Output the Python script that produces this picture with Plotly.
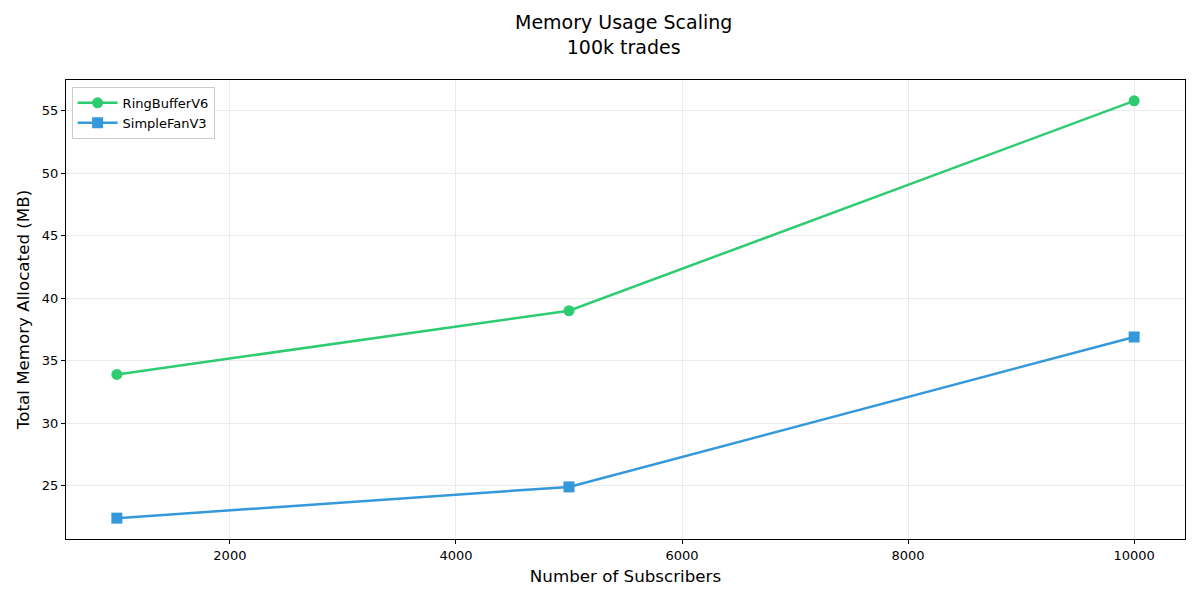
import plotly.graph_objects as go

subscribers = [1000, 5000, 10000]
ring_buffer_v6 = [33.9, 39.0, 55.8]
simple_fan_v3 = [22.4, 24.9, 36.9]
x_ticks = [2000, 4000, 6000, 8000, 10000]
y_ticks = [25, 30, 35, 40, 45, 50, 55]

fig = go.Figure()
fig.add_trace(go.Scatter(
    x=subscribers, y=ring_buffer_v6, mode="lines+markers", name="RingBufferV6",
    line=dict(color="#2ecc71", width=2.5),
    marker=dict(symbol="circle", size=11, color="#2ecc71"),
))
fig.add_trace(go.Scatter(
    x=subscribers, y=simple_fan_v3, mode="lines+markers", name="SimpleFanV3",
    line=dict(color="#3498db", width=2.5),
    marker=dict(symbol="square", size=11, color="#3498db"),
))

axis_common = dict(
    showline=True, linecolor="black", linewidth=1, mirror=True,
    ticks="outside", ticklen=4, tickcolor="black",
    showgrid=True, gridcolor="#ebebeb", gridwidth=1,
    zeroline=False, tickfont=dict(size=13, color="black"),
)

W, H = 1184, 584
fig.update_layout(
    width=W, height=H,
    paper_bgcolor="white", plot_bgcolor="white",
    font=dict(family="DejaVu Sans", color="black"),
    margin=dict(l=58, r=7, t=72, b=53),
    title=dict(
        text="Memory Usage Scaling<br>100k trades",
        x=0.520, xanchor="center", yref="container", y=1 - 21 / H, yanchor="middle",
        font=dict(size=19),
    ),
    xaxis=dict(
        range=[550, 10450], tickvals=x_ticks, tickformat="d",
        title=dict(text="Number of Subscribers", font=dict(size=16.7), standoff=8),
        **axis_common,
    ),
    yaxis=dict(
        range=[20.73, 57.47], tickvals=y_ticks,
        title=dict(text="Total Memory Allocated (MB)", font=dict(size=16.7), standoff=8),
        **axis_common,
    ),
    legend=dict(
        x=0.005, y=0.985, xanchor="left", yanchor="top",
        bgcolor="rgba(255,255,255,0.8)", bordercolor="#cccccc", borderwidth=1,
        font=dict(size=13), tracegroupgap=0, itemwidth=40,
    ),
    showlegend=True,
)

fig.write_html("out.html")
